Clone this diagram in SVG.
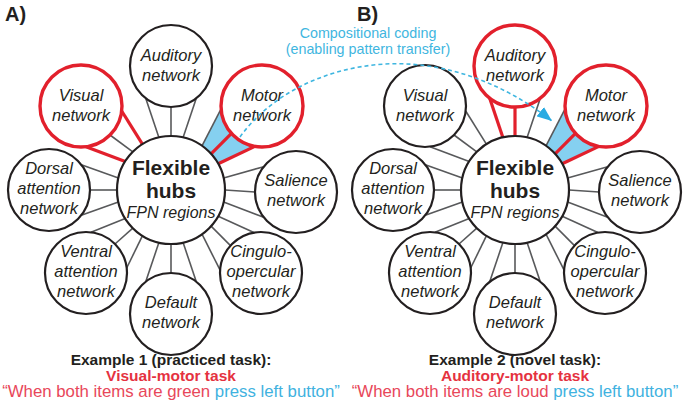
<svg xmlns="http://www.w3.org/2000/svg" width="683" height="401" viewBox="0 0 683 401">
<style>
.bg{fill:#ffffff}
.ln{stroke:#58595b;stroke-width:1.6;fill:none}
.rl{stroke:#e2202c;stroke-width:3.2;fill:none}
.fan{fill:#85d0f0;stroke:none}
.sat{fill:#ffffff;stroke:#231f20;stroke-width:2.2}
.sat.red{stroke:#e2202c;stroke-width:3.4}
.hub{fill:#ffffff;stroke:#231f20;stroke-width:2.2}
.nt{font-family:"Liberation Sans",Arial,sans-serif;font-style:italic;font-size:16.5px;fill:#231f20;text-anchor:middle}
.hb{font-family:"Liberation Sans",Arial,sans-serif;font-weight:bold;font-size:21px;fill:#231f20;text-anchor:middle}
.hi{font-family:"Liberation Sans",Arial,sans-serif;font-style:italic;font-size:16px;fill:#231f20;text-anchor:middle}
.pl{font-family:"Liberation Sans",Arial,sans-serif;font-weight:bold;font-size:20px;fill:#231f20}
.ex{font-family:"Liberation Sans",Arial,sans-serif;font-weight:bold;font-size:15.5px;fill:#231f20;text-anchor:middle}
.task{font-family:"Liberation Sans",Arial,sans-serif;font-weight:bold;font-size:15.5px;fill:#e5323f;text-anchor:middle}
.q{font-family:"Liberation Sans",Arial,sans-serif;font-size:16.8px;fill:#e8475a;text-anchor:middle}
.qb{fill:#3fb2e0}
.cc{font-family:"Liberation Sans",Arial,sans-serif;font-size:14.3px;fill:#3fb6e0;text-anchor:middle}
.dash{stroke:#3fb6e0;stroke-width:1.6;fill:none;stroke-dasharray:4 3}
</style>
<defs>
<marker id="arrow" markerUnits="userSpaceOnUse" markerWidth="16" markerHeight="12" viewBox="0 0 16 12" refX="15" refY="6" orient="auto">
<path d="M0,0 L15,6 L0,12 z" fill="#29abe2"/>
</marker>
</defs>
<rect class="bg" x="0" y="0" width="683" height="401"/>

<g id="connectors">
<g id="conn-a">
<polygon class="fan" points="202.0,145.8 221.1,108.9 254.9,146.4 218.2,163.8"/>
<line class="ln" x1="158.9" y1="137.4" x2="145.7" y2="98.3"/>
<line class="ln" x1="171" y1="136" x2="171" y2="107"/>
<line class="ln" x1="183.1" y1="137.4" x2="196.3" y2="98.3"/>
<line class="ln" x1="202.0" y1="145.8" x2="221.1" y2="108.9"/>
<line class="ln" x1="223.6" y1="177.9" x2="263.7" y2="166.7"/>
<line class="ln" x1="225" y1="190" x2="255" y2="192"/>
<line class="ln" x1="223.6" y1="202.1" x2="263.7" y2="217.3"/>
<line class="ln" x1="218.2" y1="216.2" x2="253.9" y2="232.6"/>
<line class="ln" x1="211.1" y1="226.1" x2="230.5" y2="245.6"/>
<line class="ln" x1="202.0" y1="234.2" x2="220.1" y2="270.1"/>
<line class="ln" x1="183.1" y1="242.6" x2="196.3" y2="281.7"/>
<line class="ln" x1="171" y1="244" x2="171" y2="273"/>
<line class="ln" x1="158.9" y1="242.6" x2="145.7" y2="281.7"/>
<line class="ln" x1="142.4" y1="235.8" x2="126.7" y2="268.0"/>
<line class="ln" x1="132.8" y1="228.2" x2="115.0" y2="244.0"/>
<line class="ln" x1="125.2" y1="218.6" x2="91.0" y2="232.3"/>
<line class="ln" x1="118.4" y1="202.1" x2="81.3" y2="215.3"/>
<line class="ln" x1="117" y1="190" x2="90" y2="190"/>
<line class="ln" x1="118.4" y1="177.9" x2="81.3" y2="164.7"/>
<line class="ln" x1="132.8" y1="151.8" x2="110.0" y2="135.0"/>
<line class="rl" x1="211.1" y1="153.9" x2="231.5" y2="133.4"/>
<line class="rl" x1="218.2" y1="163.8" x2="254.9" y2="146.4"/>
<line class="rl" x1="125.2" y1="161.4" x2="86.0" y2="146.7"/>
<line class="rl" x1="142.4" y1="144.2" x2="121.7" y2="111.0"/>
</g>
<g id="conn-b" transform="translate(344,0)">
<polygon class="fan" points="202.0,145.8 221.1,108.9 254.9,146.4 218.2,163.8"/>
<line class="ln" x1="183.1" y1="137.4" x2="196.3" y2="98.3"/>
<line class="ln" x1="202.0" y1="145.8" x2="221.1" y2="108.9"/>
<line class="ln" x1="223.6" y1="177.9" x2="263.7" y2="166.7"/>
<line class="ln" x1="225" y1="190" x2="255" y2="192"/>
<line class="ln" x1="223.6" y1="202.1" x2="263.7" y2="217.3"/>
<line class="ln" x1="218.2" y1="216.2" x2="253.9" y2="232.6"/>
<line class="ln" x1="211.1" y1="226.1" x2="230.5" y2="245.6"/>
<line class="ln" x1="202.0" y1="234.2" x2="220.1" y2="270.1"/>
<line class="ln" x1="183.1" y1="242.6" x2="196.3" y2="281.7"/>
<line class="ln" x1="171" y1="244" x2="171" y2="273"/>
<line class="ln" x1="158.9" y1="242.6" x2="145.7" y2="281.7"/>
<line class="ln" x1="142.4" y1="235.8" x2="126.7" y2="268.0"/>
<line class="ln" x1="132.8" y1="228.2" x2="115.0" y2="244.0"/>
<line class="ln" x1="125.2" y1="218.6" x2="91.0" y2="232.3"/>
<line class="ln" x1="118.4" y1="202.1" x2="81.3" y2="215.3"/>
<line class="ln" x1="117" y1="190" x2="90" y2="190"/>
<line class="ln" x1="118.4" y1="177.9" x2="81.3" y2="164.7"/>
<line class="ln" x1="125.2" y1="161.4" x2="86.0" y2="146.7"/>
<line class="ln" x1="132.8" y1="151.8" x2="110.0" y2="135.0"/>
<line class="ln" x1="142.4" y1="144.2" x2="121.7" y2="111.0"/>
<line class="rl" x1="158.9" y1="137.4" x2="145.7" y2="98.3"/>
<line class="rl" x1="171" y1="136" x2="171" y2="107"/>
<line class="rl" x1="211.1" y1="153.9" x2="231.5" y2="133.4"/>
<line class="rl" x1="218.2" y1="163.8" x2="254.9" y2="146.4"/>
</g>
</g>

<g id="panel-a">
<g id="a-hub"><circle class="hub" cx="171" cy="190" r="54"/><text class="hb" x="171" y="175">Flexible</text><text class="hb" x="171" y="198">hubs</text><text class="hi" x="171" y="218">FPN regions</text></g>
<g id="a-auditory"><circle class="sat" cx="171" cy="66" r="41"/><text class="nt"><tspan x="171" y="61">Auditory</tspan><tspan x="171" y="81">network</tspan></text></g>
<g id="a-visual"><circle class="sat red" cx="81" cy="106" r="41"/><text class="nt"><tspan x="81" y="101">Visual</tspan><tspan x="81" y="121">network</tspan></text></g>
<g id="a-motor"><circle class="sat red" cx="262" cy="106" r="41"/><text class="nt"><tspan x="262" y="101">Motor</tspan><tspan x="262" y="121">network</tspan></text></g>
<g id="a-dorsal"><circle class="sat" cx="49" cy="190" r="41"/><text class="nt"><tspan x="49" y="174">Dorsal</tspan><tspan x="49" y="194">attention</tspan><tspan x="49" y="214">network</tspan></text></g>
<g id="a-salience"><circle class="sat" cx="296" cy="192" r="41"/><text class="nt"><tspan x="296" y="186">Salience</tspan><tspan x="296" y="206">network</tspan></text></g>
<g id="a-ventral"><circle class="sat" cx="86" cy="273" r="41"/><text class="nt"><tspan x="86" y="257">Ventral</tspan><tspan x="86" y="277">attention</tspan><tspan x="86" y="297">network</tspan></text></g>
<g id="a-cingulo"><circle class="sat" cx="261" cy="273" r="41"/><text class="nt"><tspan x="261" y="257">Cingulo-</tspan><tspan x="261" y="277">opercular</tspan><tspan x="261" y="297">network</tspan></text></g>
<g id="a-default"><circle class="sat" cx="171" cy="314" r="41"/><text class="nt"><tspan x="171" y="308">Default</tspan><tspan x="171" y="328">network</tspan></text></g>
</g>

<g id="panel-b" transform="translate(344,0)">
<g id="b-hub"><circle class="hub" cx="171" cy="190" r="54"/><text class="hb" x="171" y="175">Flexible</text><text class="hb" x="171" y="198">hubs</text><text class="hi" x="171" y="218">FPN regions</text></g>
<g id="b-auditory"><circle class="sat red" cx="171" cy="66" r="41"/><text class="nt"><tspan x="171" y="61">Auditory</tspan><tspan x="171" y="81">network</tspan></text></g>
<g id="b-visual"><circle class="sat" cx="81" cy="106" r="41"/><text class="nt"><tspan x="81" y="101">Visual</tspan><tspan x="81" y="121">network</tspan></text></g>
<g id="b-motor"><circle class="sat red" cx="262" cy="106" r="41"/><text class="nt"><tspan x="262" y="101">Motor</tspan><tspan x="262" y="121">network</tspan></text></g>
<g id="b-dorsal"><circle class="sat" cx="49" cy="190" r="41"/><text class="nt"><tspan x="49" y="174">Dorsal</tspan><tspan x="49" y="194">attention</tspan><tspan x="49" y="214">network</tspan></text></g>
<g id="b-salience"><circle class="sat" cx="296" cy="192" r="41"/><text class="nt"><tspan x="296" y="186">Salience</tspan><tspan x="296" y="206">network</tspan></text></g>
<g id="b-ventral"><circle class="sat" cx="86" cy="273" r="41"/><text class="nt"><tspan x="86" y="257">Ventral</tspan><tspan x="86" y="277">attention</tspan><tspan x="86" y="297">network</tspan></text></g>
<g id="b-cingulo"><circle class="sat" cx="261" cy="273" r="41"/><text class="nt"><tspan x="261" y="257">Cingulo-</tspan><tspan x="261" y="277">opercular</tspan><tspan x="261" y="297">network</tspan></text></g>
<g id="b-default"><circle class="sat" cx="171" cy="314" r="41"/><text class="nt"><tspan x="171" y="308">Default</tspan><tspan x="171" y="328">network</tspan></text></g>
</g>

<g id="transfer">
<path class="dash" d="M240,137 C268,98 320,68 385,64 C440,61 500,80 552,121" marker-end="url(#arrow)"/>
<text class="cc" x="368" y="38">Compositional coding</text>
<text class="cc" x="368" y="54">(enabling pattern transfer)</text>
</g>

<g id="labels">
<text class="pl" x="5" y="21">A)</text>
<text class="pl" x="357" y="21">B)</text>
<text class="ex" x="171" y="365">Example 1 (practiced task):</text>
<text class="task" x="171" y="381">Visual-motor task</text>
<text class="q" x="171" y="397">“When both items are green <tspan class="qb">press left button”</tspan></text>
<text class="ex" x="515" y="365">Example 2 (novel task):</text>
<text class="task" x="515" y="381">Auditory-motor task</text>
<text class="q" x="515" y="397">“When both items are loud <tspan class="qb">press left button”</tspan></text>
</g>
</svg>
